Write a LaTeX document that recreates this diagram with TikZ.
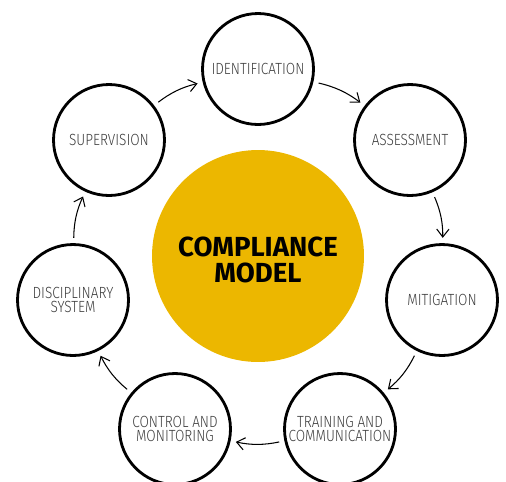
\documentclass[tikz,border=0pt]{standalone}
\usepackage{fontspec}
\setsansfont{Fira Sans}
\newfontfamily\stagefont{Fira Sans Light}[FakeStretch=0.84]
\newfontfamily\corefont{Fira Sans}
\usetikzlibrary{arrows.meta}
\definecolor{gold}{RGB}{236,183,0}
\definecolor{labelgrey}{RGB}{62,62,62}

\begin{document}
\begin{tikzpicture}[
  x=0.02cm, y=-0.02cm,
  every node/.style={inner sep=1pt},
  stage/.style={circle, draw, line width=1.6pt, fill=white, minimum size=2.22cm,
    inner sep=0pt, align=center, text=labelgrey,
    font=\stagefont\fontsize{9.2}{7.9}\selectfont},
  core/.style={circle, fill=gold, minimum size=4.24cm, inner sep=0pt, align=center,
    font=\corefont\bfseries\fontsize{15.7}{14.7}\selectfont},
  % thin arcs round the ring, open barb at the head
  arrow/.style={draw, line width=0.6pt, -{Straight Barb[length=4.5pt,width=7pt]},
    shorten <=3pt, shorten >=3pt}]

  \useasboundingbox (0,0) rectangle (506,481);

  % middle
  \node[core] (core) at (258,256) {};
  \node (title) at (258,260) [align=center, font=\corefont\bfseries\fontsize{15.7}{14.7}\selectfont]
    {COMPLIANCE\\MODEL};

  % stages
  \node[stage] (ident)   at (258,69)  {IDENTIFICATION};
  \node[stage] (assess)  at (410,140) {ASSESSMENT};
  \node[stage] (mitig)   at (442,300) {MITIGATION};
  \node[stage] (train)   at (340,429) {TRAINING AND\\COMMUNICATION};
  \node[stage] (control) at (175,429) {CONTROL AND\\MONITORING};
  \node[stage] (disc)    at (73,300)  {DISCIPLINARY\\SYSTEM};
  \node[stage] (superv)  at (109,140) {SUPERVISION};

  % arrows
  \draw[arrow] (superv)  to[bend left=12] (ident);
  \draw[arrow] (ident)   to[bend left=12] (assess);
  \draw[arrow] (assess)  to[bend left=12] (mitig);
  \draw[arrow] (mitig)   to[bend left=12] (train);
  \draw[arrow] (train)   to[bend left=12] (control);
  \draw[arrow] (control) to[bend left=12] (disc);
  \draw[arrow] (disc)    to[bend left=12] (superv);
\end{tikzpicture}
\end{document}
